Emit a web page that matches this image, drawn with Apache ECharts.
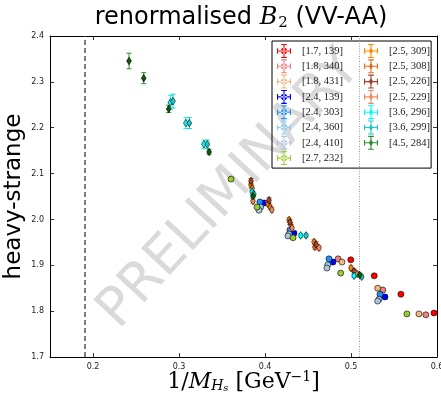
<!DOCTYPE html>
<html>
<head>
<meta charset="utf-8">
<script src="https://cdn.jsdelivr.net/npm/echarts@6/dist/echarts.min.js"></script>
<style>html,body{margin:0;padding:0;background:#fff;}#c{width:441px;height:397px;}</style>
</head>
<body>
<div id="c"></div>
<script>
// ---- data: [x = 1/M_Hs, y = heavy-strange, error] ----
const ens_17_139 = [[0.4997,1.912,0.003],[0.527,1.877,0.003],[0.558,1.837,0.003],[0.5965,1.796,0.003]];
const ens_18_340 = [[0.485,1.914,0.003],[0.537,1.846,0.003],[0.587,1.792,0.003]];
const ens_18_431 = [[0.4895,1.907,0.003],[0.531,1.850,0.003],[0.579,1.794,0.003]];
const ens_24_139 = [[0.399,2.036,0.004],[0.4337,1.970,0.004],[0.479,1.907,0.004],[0.5395,1.831,0.004]];
const ens_24_303 = [[0.394,2.038,0.003],[0.429,1.977,0.003],[0.4744,1.914,0.003],[0.5337,1.837,0.003]];
const ens_24_360 = [[0.395,2.027,0.003],[0.428,1.968,0.003],[0.473,1.901,0.003],[0.5326,1.826,0.003]];
const ens_24_410 = [[0.393,2.020,0.003],[0.4267,1.964,0.003],[0.472,1.894,0.003],[0.531,1.822,0.003]];
const ens_27_232 = [[0.3605,2.088,0.003],[0.3907,2.027,0.003],[0.4326,1.960,0.003],[0.488,1.883,0.003],[0.565,1.794,0.003]];
const ens_25_309 = [[0.3837,2.075,0.005],[0.4035,2.034,0.005],[0.428,1.999,0.005],[0.457,1.951,0.005],[0.500,1.894,0.005]];
const ens_25_308 = [[0.385,2.068,0.005],[0.406,2.027,0.005],[0.430,1.988,0.005],[0.458,1.940,0.005],[0.5047,1.883,0.005]];
const ens_25_226 = [[0.3837,2.084,0.005],[0.4047,2.042,0.005],[0.429,1.994,0.005],[0.4593,1.946,0.005],[0.5035,1.887,0.005]];
const ens_25_229 = [[0.386,2.040,0.005],[0.408,2.021,0.005],[0.4314,1.981,0.005],[0.4628,1.938,0.005],[0.507,1.881,0.005]];
const ens_36_296 = [[0.290,2.255,0.015],[0.308,2.210,0.012],[0.329,2.164,0.009],[0.385,2.060,0.005],[0.4415,1.965,0.004],[0.5035,1.877,0.004]];
const ens_36_299 = [[0.293,2.258,0.015],[0.312,2.210,0.012],[0.333,2.164,0.009],[0.387,2.055,0.005],[0.4477,1.965,0.004],[0.5124,1.875,0.004]];
const ens_45_284 = [[0.2419,2.3455,0.017],[0.259,2.308,0.012],[0.288,2.241,0.008],[0.335,2.147,0.005],[0.386,2.051,0.004],[0.510,1.879,0.004]];

const legendNames = ['[1.7, 139]','[1.8, 340]','[1.8, 431]','[2.4, 139]','[2.4, 303]','[2.4, 360]','[2.4, 410]','[2.7, 232]',
                     '[2.5, 309]','[2.5, 308]','[2.5, 226]','[2.5, 229]','[3.6, 296]','[3.6, 299]','[4.5, 284]'];
const ensData = [ens_17_139,ens_18_340,ens_18_431,ens_24_139,ens_24_303,ens_24_360,ens_24_410,ens_27_232,
                 ens_25_309,ens_25_308,ens_25_226,ens_25_229,ens_36_296,ens_36_299,ens_45_284];
const markerShape = ['circle','circle','circle','circle','circle','circle','circle','circle',
                     'diamond','diamond','diamond','diamond','diamond','diamond','diamond'];
const colors = ['#ff0000','#f08080','#f2b77e','#0000ff','#1e90ff','#87cefa','#b0c4de','#9acd32',
                '#ff8c00','#e07020','#a0402a','#f08a5d','#00ffff','#20c8c8','#0a5a0a'];
const barColors = ['#ff0000','#f08080','#f2b77e','#0000ff','#1e90ff','#87cefa','#b0c4de','#9acd32',
                '#ff8c00','#e07020','#a0402a','#f08a5d','#00ffff','#20c8c8','#2e8b2e'];
const xTickValues = [0.2,0.3,0.4,0.5,0.6];
const yTickValues = [1.7,1.8,1.9,2.0,2.1,2.2,2.3,2.4];
const vLines = [0.1855, 0.505];

const crossPath = 'M0,9.2L20,9.2L20,10.8L0,10.8Z M9.2,0L10.8,0L10.8,20L9.2,20Z M6,0L14,0L14,1.6L6,1.6Z M6,18.4L14,18.4L14,20L6,20Z M0,6L1.6,6L1.6,14L0,14Z M18.4,6L20,6L20,14L18.4,14Z';
const circIcon = 'path://' + crossPath + ' M5.5,10A4.5,4.5 0 1,0 14.5,10A4.5,4.5 0 1,0 5.5,10Z';
const diaIcon = 'path://' + crossPath + ' M10,4.5L13,10L10,15.5L7,10Z';

const chart = echarts.init(document.getElementById('c'), null, {renderer:'canvas'});

function makeSeries(i){
  const shape = markerShape[i], col = colors[i], bcol = barColors[i];
  return {
    type:'custom', name: legendNames[i], data: ensData[i], z: 3 + i,
    encode:{x:0, y:1},
    itemStyle:{color: col},
    renderItem: function(params, api){
      const x = api.value(0), y = api.value(1), e = api.value(2);
      const p = api.coord([x,y]);
      const t = api.coord([x,y+e]);
      const b = api.coord([x,y-e]);
      const ch = [
        {type:'line', shape:{x1:p[0],y1:t[1],x2:p[0],y2:b[1]}, style:{stroke:bcol, lineWidth:1}},
        {type:'line', shape:{x1:p[0]-2.5,y1:t[1],x2:p[0]+2.5,y2:t[1]}, style:{stroke:bcol, lineWidth:1}},
        {type:'line', shape:{x1:p[0]-2.5,y1:b[1],x2:p[0]+2.5,y2:b[1]}, style:{stroke:bcol, lineWidth:1}}
      ];
      if (shape === 'circle') {
        ch.push({type:'circle', shape:{cx:p[0], cy:p[1], r:3}, style:{fill:col, stroke:'#000', lineWidth:0.6}});
      } else {
        ch.push({type:'polygon', shape:{points:[[p[0],p[1]-3.8],[p[0]+2.4,p[1]],[p[0],p[1]+3.8],[p[0]-2.4,p[1]]]}, style:{fill:col, stroke:'#000', lineWidth:0.6}});
      }
      return {type:'group', children: ch};
    }
  };
}

const series = ensData.map((d,i)=>makeSeries(i));
series.unshift({
  type:'scatter', name:'vlines', data:[], xAxisIndex:0, yAxisIndex:0, z:1,
  markLine:{
    symbol:'none', silent:true, animation:false, label:{show:false},
    data:[
      {xAxis: vLines[0], lineStyle:{color:'#555', type:[5,3], width:1.5}},
      {xAxis: vLines[1], lineStyle:{color:'#999', type:[1,1.5], width:1}}
    ]
  }
});

const legendData = legendNames.map((n,i)=>({
  name:n,
  icon: markerShape[i]==='circle' ? circIcon : diaIcon,
  itemStyle:{color: barColors[i]}
}));

const legendCommon = {
  orient:'vertical', top:41, itemGap:1.3, itemWidth:16, itemHeight:14, selectedMode:false,
  textStyle:{fontFamily:'Liberation Serif', fontSize:10.5, color:'#222', padding:[0,0,0,5]}
};

const axisCommon = {
  type:'value', scale:true,
  axisLine:{show:true, onZero:false, lineStyle:{color:'#000', width:1}},
  splitLine:{show:false}
};

const option = {
  animation:false,
  backgroundColor:'#fff',
  title:{
    text:'renormalised {i|B}{s|2} (VV-AA)',
    left:236, textAlign:'center', top:0,
    textStyle:{
      fontFamily:'DejaVu Sans', fontSize:24, fontWeight:'normal', color:'#000',
      rich:{
        i:{fontFamily:'DejaVu Serif', fontStyle:'italic', fontSize:24, color:'#000'},
        s:{fontFamily:'DejaVu Serif', fontSize:15, padding:[11,0,0,1], color:'#000'}
      }
    }
  },
  grid:{left:50, right:4, top:36, bottom:40, containLabel:false, outerBoundsMode:'none'},
  legend:[
    Object.assign({}, legendCommon, {
      left:272, padding:[3,88,3,5], borderColor:'#000', borderWidth:1,
      data: legendData.slice(0,8)
    }),
    Object.assign({}, legendCommon, {
      left:364, padding:[3,0,3,0], borderWidth:0,
      data: legendData.slice(8)
    })
  ],
  xAxis:[
    Object.assign({}, axisCommon, {
      min:0.15, max:0.6, position:'bottom',
      axisTick:{show:true, inside:true, length:4, customValues:xTickValues, lineStyle:{color:'#000', width:0.8}},
      axisLabel:{show:true, customValues:xTickValues, fontFamily:'DejaVu Sans', fontSize:8, color:'#222', margin:6,
                 formatter:v=>v.toFixed(1)},
      name:'{n|1/}{i|M}{sub|H}{ss|s}{n| [GeV}{sup|−1}{n|]}', nameLocation:'middle', nameGap:13, nameMoveOverlap:false,
      nameTextStyle:{
        fontFamily:'DejaVu Serif', fontSize:22, color:'#000', verticalAlign:'top',
        rich:{
          n:{fontFamily:'DejaVu Serif', fontSize:22, color:'#000'},
          i:{fontFamily:'DejaVu Serif', fontStyle:'italic', fontSize:22, color:'#000'},
          sub:{fontFamily:'DejaVu Serif', fontStyle:'italic', fontSize:14, padding:[8,0,0,0], color:'#000'},
          ss:{fontFamily:'DejaVu Serif', fontStyle:'italic', fontSize:10, padding:[13,0,0,0], color:'#000'},
          sup:{fontFamily:'DejaVu Serif', fontSize:14, padding:[0,0,10,0], color:'#000'}
        }
      }
    }),
    Object.assign({}, axisCommon, {
      min:0.15, max:0.6, position:'top',
      axisTick:{show:true, inside:true, length:4, customValues:xTickValues, lineStyle:{color:'#000', width:0.8}},
      axisLabel:{show:false}
    })
  ],
  yAxis:[
    Object.assign({}, axisCommon, {
      min:1.7, max:2.4, position:'left',
      axisTick:{show:true, inside:true, length:4, customValues:yTickValues, lineStyle:{color:'#000', width:0.8}},
      axisLabel:{show:true, customValues:yTickValues, fontFamily:'DejaVu Sans', fontSize:8, color:'#222', margin:6,
                 formatter:v=>v.toFixed(1)},
      name:'heavy-strange', nameLocation:'middle', nameGap:24, nameRotate:90, nameMoveOverlap:false,
      nameTextStyle:{fontFamily:'DejaVu Sans', fontSize:23, color:'#000'}
    }),
    Object.assign({}, axisCommon, {
      min:1.7, max:2.4, position:'right',
      axisTick:{show:true, inside:true, length:4, customValues:yTickValues, lineStyle:{color:'#000', width:0.8}},
      axisLabel:{show:false}
    })
  ],
  graphic:[{
    type:'text', x:230, y:190, rotation: 47*Math.PI/180, z:-10, silent:true,
    style:{text:'PRELIMINARY', fontFamily:'DejaVu Sans', fontSize:54, fill:'#dadada',
           align:'center', verticalAlign:'middle'}
  }],
  series: series
};
chart.setOption(option);
</script>
</body>
</html>
